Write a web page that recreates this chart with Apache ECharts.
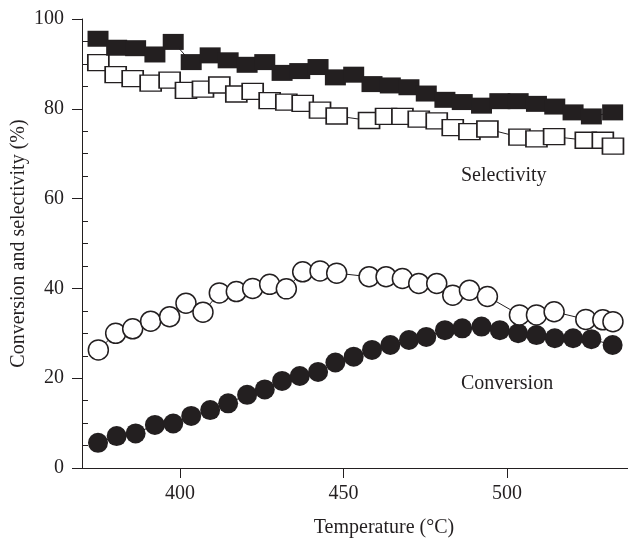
<!DOCTYPE html>
<html>
<head>
<meta charset="utf-8">
<script src="https://cdn.jsdelivr.net/npm/echarts@6/dist/echarts.min.js"></script>
<style>
html, body { margin: 0; padding: 0; background: #fff; }
#chart { width: 628px; height: 538px; }
</style>
</head>
<body>
<div id="chart"></div>
<script>
// filled symbols (one run)
const tempFilled = [374.9, 380.6, 386.4, 392.3, 397.9, 403.4, 409.2, 414.7, 420.5, 425.9, 431.2, 436.6, 442.2, 447.5, 453.1,
  458.7, 464.3, 470.0, 475.3, 481.0, 486.3, 492.2, 497.8, 503.4, 509.0, 514.6, 520.2, 525.8, 532.3];
const selFilled = [95.6, 93.6, 93.5, 92.1, 94.9, 90.4, 91.9, 90.8, 89.8, 90.4, 88.0, 88.4, 89.3, 87.0, 87.6,
  85.5, 85.2, 84.8, 83.4, 82.0, 81.5, 80.7, 81.7, 81.7, 81.1, 80.5, 79.2, 78.3, 79.2];
const convFilled = [5.6, 7.1, 7.7, 9.6, 9.9, 11.6, 12.9, 14.4, 16.3, 17.5, 19.4, 20.5, 21.4, 23.5, 24.8,
  26.3, 27.4, 28.5, 29.2, 30.7, 31.1, 31.5, 30.7, 30.0, 29.6, 28.9, 28.9, 28.7, 27.4];

// open symbols (other run)
const tempOpen = [375.0, 380.3, 385.5, 391.0, 396.8, 401.8, 407.0, 412.0, 417.2, 422.2, 427.4, 432.5, 437.5, 442.8, 447.9,
  457.8, 463.0, 468.0, 473.0, 478.5, 483.4, 488.5, 494.0, 503.8, 509.0, 514.4, 524.1, 529.3, 532.4];
const selOpen = [90.3, 87.6, 86.7, 85.7, 86.4, 84.1, 84.4, 85.3, 83.3, 83.9, 81.8, 81.5, 81.2, 79.7, 78.4,
  77.4, 78.3, 78.3, 77.7, 77.3, 75.8, 74.9, 75.5, 73.7, 73.3, 73.8, 73.0, 73.0, 71.7];
const convOpen = [26.3, 30.0, 31.0, 32.7, 33.7, 36.7, 34.7, 39.0, 39.3, 40.0, 40.9, 39.9, 43.7, 43.9, 43.4,
  42.6, 42.6, 42.2, 41.1, 41.1, 38.5, 39.6, 38.2, 34.1, 34.1, 34.8, 33.1, 33.0, 32.6];

const xTicks = [400, 450, 500];
const yMinorTicks = [5, 10, 15, 25, 30, 35, 45, 50, 55, 65, 70, 75, 85, 90, 95];
const notes = [[499, 65, 'Selectivity'], [500, 18.7, 'Conversion']];

const ink = '#231f20';
const font = 'Liberation Serif';

function pairs(xs, ys) {
  return xs.map((x, i) => [x, ys[i]]);
}

function lineSeries(xs, ys, symbol, size, filled) {
  return {
    type: 'line',
    data: pairs(xs, ys),
    symbol: symbol,
    symbolSize: size,
    showAllSymbol: true,
    lineStyle: { color: ink, width: 1 },
    itemStyle: filled
      ? { color: ink, borderColor: ink, borderWidth: 0 }
      : { color: '#fff', borderColor: ink, borderWidth: 1.5 },
    emphasis: { disabled: true },
    animation: false
  };
}

const chart = echarts.init(document.getElementById('chart'));
chart.setOption({
  animation: false,
  grid: { left: 82, right: 0, top: 19, bottom: 70, outerBoundsMode: 'none', containLabel: false },
  xAxis: {
    type: 'value',
    min: 370,
    max: 537,
    name: 'Temperature (°C)',
    nameLocation: 'middle',
    nameGap: 50,
    nameMoveOverlap: false,
    nameTextStyle: { fontFamily: font, fontSize: 20, color: ink, padding: [0, 0, 0, 58] },
    axisLine: { lineStyle: { color: ink, width: 1 } },
    axisTick: { length: 10, lineStyle: { color: ink }, customValues: xTicks },
    axisLabel: { fontFamily: font, fontSize: 20, color: ink, margin: 16, customValues: xTicks },
    splitLine: { show: false }
  },
  yAxis: [{
    type: 'value',
    min: 0,
    max: 100,
    interval: 20,
    name: 'Conversion and selectivity (%)',
    nameLocation: 'middle',
    nameGap: 53,
    nameMoveOverlap: false,
    nameTextStyle: { fontFamily: font, fontSize: 20, color: ink },
    axisLine: { show: true, lineStyle: { color: ink, width: 1 } },
    axisTick: { show: true, length: 10, lineStyle: { color: ink } },
    axisLabel: { fontFamily: font, fontSize: 20, color: ink, margin: 18 },
    splitLine: { show: false }
  }, {
    // inner minor ticks every 5 %
    type: 'value',
    position: 'left',
    min: 0,
    max: 100,
    axisLine: { show: false },
    axisTick: { show: true, inside: true, length: 6, lineStyle: { color: ink }, customValues: yMinorTicks },
    axisLabel: { show: false },
    splitLine: { show: false }
  }],
  series: [
    lineSeries(tempFilled, convFilled, 'circle', 20, true),
    lineSeries(tempOpen, convOpen, 'circle', 20, false),
    lineSeries(tempOpen, selOpen, 'rect', [21, 16], false),
    lineSeries(tempFilled, selFilled, 'rect', [21, 16], true)
  ]
});

// curve labels, placed at data coordinates
chart.setOption({
  graphic: notes.map(n => {
    const pt = chart.convertToPixel({ gridIndex: 0 }, [n[0], n[1]]);
    return {
      type: 'text',
      x: pt[0],
      y: pt[1],
      style: {
        text: n[2],
        fontFamily: font,
        fontSize: 20,
        fill: ink,
        align: 'center',
        verticalAlign: 'middle'
      }
    };
  })
});
</script>
</body>
</html>
